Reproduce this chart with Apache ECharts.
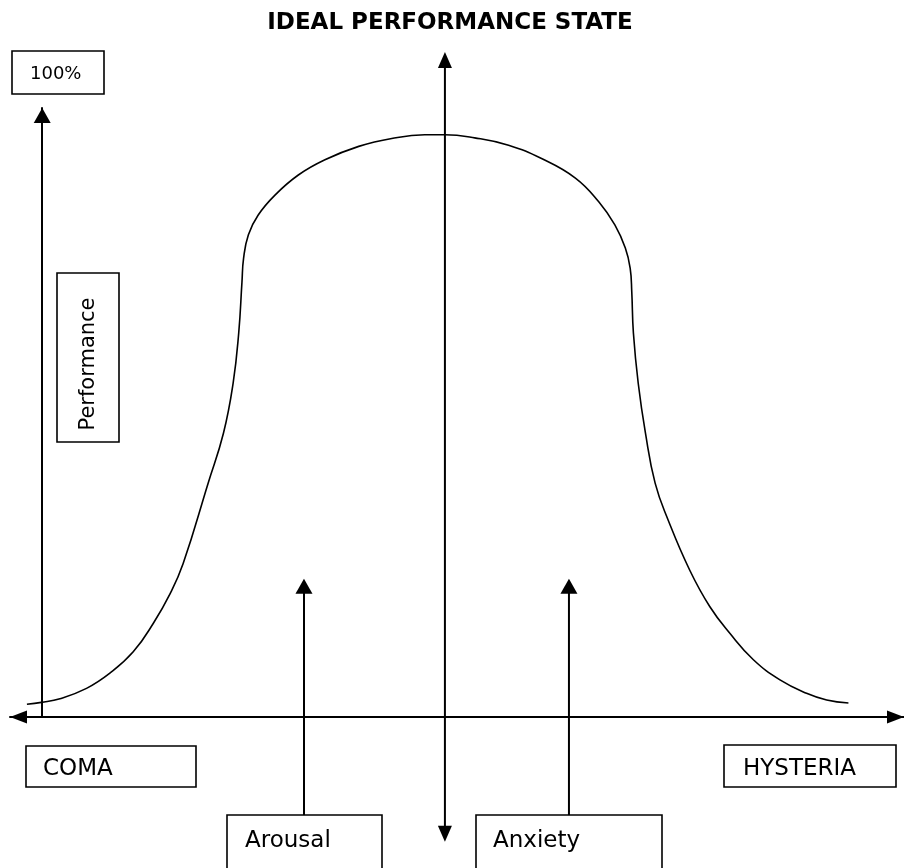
<!DOCTYPE html>
<html><head><meta charset="utf-8">
<script src="https://cdn.jsdelivr.net/npm/echarts@6/dist/echarts.min.js"></script>
<style>html,body{margin:0;padding:0;background:#fff}#c{width:904px;height:868px}</style>
</head><body><div id="c"></div>
<script>
// Curve: arousal level (x) vs performance (% of 100)
const arousalX = [-1.9, -0.1, 2.2, 5.5, 8.4, 11.3, 13.8, 15.9, 17.5, 20.6, 22.5, 23.7, 24.4, 24.8, 25.0, 25.6, 26.8, 28.9, 31.8, 35.1, 39.3, 43.4, 47.5, 50.0, 53.7, 57.9, 62.0, 66.2, 69.1, 71.1, 72.4, 73.0, 73.2, 73.4, 74.0, 74.9, 76.1, 77.7, 80.4, 82.9, 85.4, 88.3, 91.6, 94.9, 97.4, 100.1];
const performanceY = [2.1, 2.4, 3.0, 4.7, 7.2, 10.7, 15.4, 20.3, 25.2, 38.4, 46.6, 54.8, 63.1, 71.4, 75.3, 79.2, 82.4, 85.7, 89.0, 91.5, 93.7, 95.0, 95.6, 95.6, 95.1, 93.9, 91.7, 88.5, 84.6, 80.8, 77.0, 73.7, 69.8, 63.1, 54.8, 46.6, 38.4, 32.4, 24.1, 18.1, 13.7, 9.4, 6.1, 3.9, 2.8, 2.3];

// Annotation arrows (data units): x, tip y, tail y, double-headed
const arrowX = [50, 32.5, 65.4];
const arrowTipY = [109.2, 22.7, 22.7];
const arrowEndY = [-20.5, -16.1, -16.1];
const arrowDouble = [1, 0, 0];

// Axis arrowheads (data units) and their direction
const axisHeadX = [-4, 107, 0];
const axisHeadY = [0, 0, 100];
const axisHeadDir = ['left', 'right', 'up'];

const titleText = 'IDEAL PERFORMANCE STATE';
const labelTop = '100%';
const labelY = 'Performance';
const labelLow = 'COMA';
const labelHigh = 'HYSTERIA';
const labelArousal = 'Arousal';
const labelAnxiety = 'Anxiety';

const FF = "DejaVu Sans";
const chart = echarts.init(document.getElementById('c'), null, {renderer: 'canvas'});

function box(x, y, w, h) {
  return {type: 'rect', shape: {x, y, width: w, height: h}, style: {fill: 'none', stroke: '#000', lineWidth: 1.6}, silent: true};
}
function txt(t, x, y, size, extra) {
  const st = {text: t, fontSize: size, fontFamily: FF, fontWeight: (extra && extra.bold) ? 'bold' : 'normal', fill: '#000',
    textAlign: (extra && extra.align) || 'left', textVerticalAlign: 'middle'};
  const el = {type: 'text', x, y, style: st, silent: true};
  if (extra && extra.rotation) el.rotation = extra.rotation;
  return el;
}

const option = {
  animation: false,
  backgroundColor: '#fff',
  grid: {left: 10, right: 0, top: 108, bottom: 151, containLabel: false},
  xAxis: {
    type: 'value', min: -4, max: 107,
    axisLine: {show: true, onZero: true, lineStyle: {color: '#000', width: 2}},
    axisTick: {show: false}, axisLabel: {show: false}, splitLine: {show: false}
  },
  yAxis: {
    type: 'value', min: 0, max: 100,
    axisLine: {show: true, onZero: true, lineStyle: {color: '#000', width: 2}},
    axisTick: {show: false}, axisLabel: {show: false}, splitLine: {show: false}
  },
  series: [
    {
      type: 'line',
      data: arousalX.map((x, i) => [x, performanceY[i]]),
      showSymbol: false, symbol: 'none',
      smooth: 0.45,
      lineStyle: {color: '#000', width: 1.6},
      clip: false, silent: true, z: 2
    },
    {
      type: 'custom',
      data: arrowX.map((x, i) => [x, arrowTipY[i], arrowEndY[i], arrowDouble[i]]),
      encode: {x: 0, y: [1, 2]},
      clip: false, silent: true, z: 3,
      renderItem: function (params, api) {
        const x = api.value(0);
        const tip = api.coord([x, api.value(1)]);
        const end = api.coord([x, api.value(2)]);
        const dbl = api.value(3) === 1;
        const hw = dbl ? 7 : 8.5, hl = dbl ? 16 : 15;
        const children = [
          {type: 'line', shape: {x1: tip[0], y1: tip[1] + hl - 1, x2: end[0], y2: dbl ? end[1] - hl + 1 : end[1]}, style: {stroke: '#000', lineWidth: 2}},
          {type: 'polygon', shape: {points: [[tip[0], tip[1]], [tip[0] - hw, tip[1] + hl], [tip[0] + hw, tip[1] + hl]]}, style: {fill: '#000'}}
        ];
        if (dbl) children.push({type: 'polygon', shape: {points: [[end[0], end[1]], [end[0] - hw, end[1] - hl], [end[0] + hw, end[1] - hl]]}, style: {fill: '#000'}});
        return {type: 'group', children};
      }
    },
    {
      type: 'custom',
      data: axisHeadX.map((x, i) => [x, axisHeadY[i], i]),
      encode: {x: 0, y: 1},
      clip: false, silent: true, z: 4,
      renderItem: function (params, api) {
        const p = api.coord([api.value(0), api.value(1)]);
        const dir = axisHeadDir[api.value(2)];
        let pts;
        if (dir === 'left') pts = [[p[0], p[1]], [p[0] + 17, p[1] - 6.5], [p[0] + 17, p[1] + 6.5]];
        else if (dir === 'right') pts = [[p[0], p[1]], [p[0] - 17, p[1] - 6.5], [p[0] - 17, p[1] + 6.5]];
        else pts = [[p[0], p[1]], [p[0] - 8.5, p[1] + 15], [p[0] + 8.5, p[1] + 15]];
        return {type: 'polygon', shape: {points: pts}, style: {fill: '#000'}};
      }
    }
  ],
  graphic: [
    txt(titleText, 450, 23, 23, {bold: true, align: 'center'}),
    box(12, 51, 92, 43), txt(labelTop, 30, 74, 18),
    box(57, 273, 62, 169), txt(labelY, 89, 364, 21, {align: 'center', rotation: Math.PI / 2}),
    box(26, 746, 170, 41), txt(labelLow, 43, 769, 23),
    box(724, 745, 172, 42), txt(labelHigh, 743, 769, 23),
    box(227, 815, 155, 80), txt(labelArousal, 245, 841, 23),
    box(476, 815, 186, 80), txt(labelAnxiety, 493, 841, 23)
  ]
};
chart.setOption(option);
</script>
</body></html>
